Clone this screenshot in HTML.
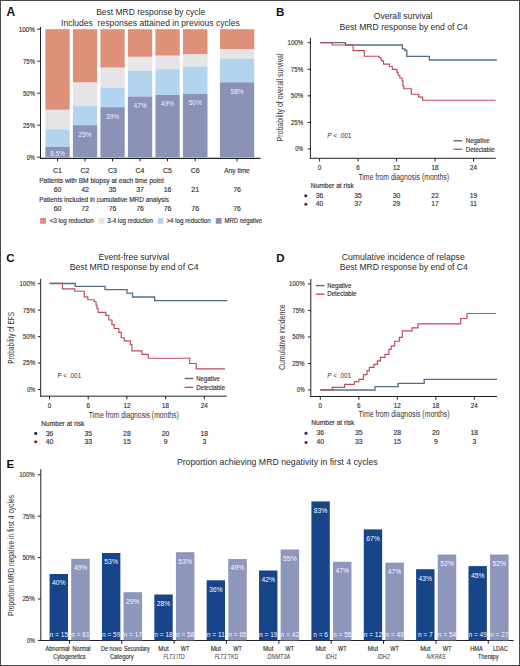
<!DOCTYPE html>
<html><head><meta charset="utf-8"><style>
html,body{margin:0;padding:0;background:#fff;}
body{width:520px;height:666px;overflow:hidden;}
svg{display:block;font-family:"Liberation Sans", sans-serif;}
</style></head><body>
<svg width="520" height="666" viewBox="0 0 520 666">
<rect x="0" y="0" width="520" height="666" fill="#fff"/>
<text x="6.6" y="15.8" font-size="12" font-weight="bold" fill="#111">A</text>
<text x="96.2" y="15.4" font-size="8.6" textLength="109" lengthAdjust="spacingAndGlyphs" fill="#2b2b2b">Best MRD response by cycle</text>
<text x="61" y="25.6" font-size="8.6" textLength="178.8" lengthAdjust="spacingAndGlyphs" fill="#2b2b2b" xml:space="preserve">Includes  responses attained in previous cycles</text>
<rect x="45.40" y="29.20" width="24.30" height="80.64" fill="#DF9079"/>
<rect x="45.40" y="109.84" width="24.30" height="19.46" fill="#E5E4E6"/>
<rect x="45.40" y="129.30" width="24.30" height="17.66" fill="#B3D4EE"/>
<rect x="45.40" y="146.96" width="24.30" height="10.24" fill="#8A93B6"/>
<text x="57.55" y="155.6" font-size="6.5" text-anchor="middle" fill="#eef0ff">8.5%</text>
<rect x="72.90" y="29.20" width="24.30" height="53.38" fill="#DF9079"/>
<rect x="72.90" y="82.58" width="24.30" height="23.17" fill="#E5E4E6"/>
<rect x="72.90" y="105.74" width="24.30" height="19.46" fill="#B3D4EE"/>
<rect x="72.90" y="125.20" width="24.30" height="32.00" fill="#8A93B6"/>
<text x="85.05000000000001" y="136.7" font-size="6.5" text-anchor="middle" fill="#eef0ff">25%</text>
<rect x="100.40" y="29.20" width="24.30" height="38.53" fill="#DF9079"/>
<rect x="100.40" y="67.73" width="24.30" height="19.97" fill="#E5E4E6"/>
<rect x="100.40" y="87.70" width="24.30" height="19.58" fill="#B3D4EE"/>
<rect x="100.40" y="107.28" width="24.30" height="49.92" fill="#8A93B6"/>
<text x="112.55000000000001" y="118.77999999999999" font-size="6.5" text-anchor="middle" fill="#eef0ff">39%</text>
<rect x="127.90" y="29.20" width="24.30" height="27.65" fill="#DF9079"/>
<rect x="127.90" y="56.85" width="24.30" height="13.95" fill="#E5E4E6"/>
<rect x="127.90" y="70.80" width="24.30" height="25.73" fill="#B3D4EE"/>
<rect x="127.90" y="96.53" width="24.30" height="60.67" fill="#8A93B6"/>
<text x="140.05" y="108.02799999999999" font-size="6.5" text-anchor="middle" fill="#eef0ff">47%</text>
<rect x="155.40" y="29.20" width="24.30" height="26.50" fill="#DF9079"/>
<rect x="155.40" y="55.70" width="24.30" height="13.50" fill="#E5E4E6"/>
<rect x="155.40" y="69.20" width="24.30" height="25.79" fill="#B3D4EE"/>
<rect x="155.40" y="94.99" width="24.30" height="62.21" fill="#8A93B6"/>
<text x="167.55" y="106.49199999999999" font-size="6.5" text-anchor="middle" fill="#eef0ff">49%</text>
<rect x="182.90" y="29.20" width="24.60" height="25.22" fill="#DF9079"/>
<rect x="182.90" y="54.42" width="24.60" height="11.90" fill="#E5E4E6"/>
<rect x="182.90" y="66.32" width="24.60" height="27.52" fill="#B3D4EE"/>
<rect x="182.90" y="93.84" width="24.60" height="63.36" fill="#8A93B6"/>
<text x="195.20000000000002" y="105.33999999999999" font-size="6.5" text-anchor="middle" fill="#eef0ff">50%</text>
<rect x="219.90" y="29.20" width="34.30" height="19.97" fill="#DF9079"/>
<rect x="219.90" y="49.17" width="34.30" height="9.34" fill="#E5E4E6"/>
<rect x="219.90" y="58.51" width="34.30" height="23.81" fill="#B3D4EE"/>
<rect x="219.90" y="82.32" width="34.30" height="74.88" fill="#8A93B6"/>
<text x="237.05" y="93.82" font-size="6.5" text-anchor="middle" fill="#eef0ff">58%</text>
<line x1="40.5" y1="27" x2="40.5" y2="158.8" stroke="#222" stroke-width="1"/>
<line x1="40" y1="158.3" x2="260.5" y2="158.3" stroke="#222" stroke-width="1.2"/>
<line x1="37.3" y1="157.2" x2="40.5" y2="157.2" stroke="#222" stroke-width="1"/>
<text x="34.9" y="159.6" font-size="6.9" text-anchor="end" textLength="8.2" lengthAdjust="spacingAndGlyphs" fill="#333" stroke="#333" stroke-width="0.15">0%</text>
<line x1="37.3" y1="125.19999999999999" x2="40.5" y2="125.19999999999999" stroke="#222" stroke-width="1"/>
<text x="34.9" y="127.6" font-size="6.9" text-anchor="end" textLength="11.8" lengthAdjust="spacingAndGlyphs" fill="#333" stroke="#333" stroke-width="0.15">25%</text>
<line x1="37.3" y1="93.19999999999999" x2="40.5" y2="93.19999999999999" stroke="#222" stroke-width="1"/>
<text x="34.9" y="95.6" font-size="6.9" text-anchor="end" textLength="11.8" lengthAdjust="spacingAndGlyphs" fill="#333" stroke="#333" stroke-width="0.15">50%</text>
<line x1="37.3" y1="61.19999999999999" x2="40.5" y2="61.19999999999999" stroke="#222" stroke-width="1"/>
<text x="34.9" y="63.59999999999999" font-size="6.9" text-anchor="end" textLength="11.8" lengthAdjust="spacingAndGlyphs" fill="#333" stroke="#333" stroke-width="0.15">75%</text>
<line x1="37.3" y1="29.19999999999999" x2="40.5" y2="29.19999999999999" stroke="#222" stroke-width="1"/>
<text x="34.9" y="31.599999999999987" font-size="6.9" text-anchor="end" textLength="16.2" lengthAdjust="spacingAndGlyphs" fill="#333" stroke="#333" stroke-width="0.15">100%</text>
<line x1="57.55" y1="158.3" x2="57.55" y2="161.3" stroke="#222" stroke-width="1"/>
<text x="57.55" y="172.9" font-size="7" text-anchor="middle" fill="#333" stroke="#333" stroke-width="0.15">C1</text>
<text x="57.55" y="191.5" font-size="7" text-anchor="middle" fill="#333" stroke="#333" stroke-width="0.15">60</text>
<text x="57.55" y="210.8" font-size="7" text-anchor="middle" fill="#333" stroke="#333" stroke-width="0.15">60</text>
<line x1="85.05000000000001" y1="158.3" x2="85.05000000000001" y2="161.3" stroke="#222" stroke-width="1"/>
<text x="85.05000000000001" y="172.9" font-size="7" text-anchor="middle" fill="#333" stroke="#333" stroke-width="0.15">C2</text>
<text x="85.05000000000001" y="191.5" font-size="7" text-anchor="middle" fill="#333" stroke="#333" stroke-width="0.15">42</text>
<text x="85.05000000000001" y="210.8" font-size="7" text-anchor="middle" fill="#333" stroke="#333" stroke-width="0.15">72</text>
<line x1="112.55000000000001" y1="158.3" x2="112.55000000000001" y2="161.3" stroke="#222" stroke-width="1"/>
<text x="112.55000000000001" y="172.9" font-size="7" text-anchor="middle" fill="#333" stroke="#333" stroke-width="0.15">C3</text>
<text x="112.55000000000001" y="191.5" font-size="7" text-anchor="middle" fill="#333" stroke="#333" stroke-width="0.15">35</text>
<text x="112.55000000000001" y="210.8" font-size="7" text-anchor="middle" fill="#333" stroke="#333" stroke-width="0.15">76</text>
<line x1="140.05" y1="158.3" x2="140.05" y2="161.3" stroke="#222" stroke-width="1"/>
<text x="140.05" y="172.9" font-size="7" text-anchor="middle" fill="#333" stroke="#333" stroke-width="0.15">C4</text>
<text x="140.05" y="191.5" font-size="7" text-anchor="middle" fill="#333" stroke="#333" stroke-width="0.15">37</text>
<text x="140.05" y="210.8" font-size="7" text-anchor="middle" fill="#333" stroke="#333" stroke-width="0.15">76</text>
<line x1="167.55" y1="158.3" x2="167.55" y2="161.3" stroke="#222" stroke-width="1"/>
<text x="167.55" y="172.9" font-size="7" text-anchor="middle" fill="#333" stroke="#333" stroke-width="0.15">C5</text>
<text x="167.55" y="191.5" font-size="7" text-anchor="middle" fill="#333" stroke="#333" stroke-width="0.15">16</text>
<text x="167.55" y="210.8" font-size="7" text-anchor="middle" fill="#333" stroke="#333" stroke-width="0.15">76</text>
<line x1="195.20000000000002" y1="158.3" x2="195.20000000000002" y2="161.3" stroke="#222" stroke-width="1"/>
<text x="195.20000000000002" y="172.9" font-size="7" text-anchor="middle" fill="#333" stroke="#333" stroke-width="0.15">C6</text>
<text x="195.20000000000002" y="191.5" font-size="7" text-anchor="middle" fill="#333" stroke="#333" stroke-width="0.15">21</text>
<text x="195.20000000000002" y="210.8" font-size="7" text-anchor="middle" fill="#333" stroke="#333" stroke-width="0.15">76</text>
<line x1="237.05" y1="158.3" x2="237.05" y2="161.3" stroke="#222" stroke-width="1"/>
<text x="237.05" y="172.9" font-size="7" text-anchor="middle" textLength="25.4" lengthAdjust="spacingAndGlyphs" fill="#333" stroke="#333" stroke-width="0.15">Any time</text>
<text x="237.05" y="191.5" font-size="7" text-anchor="middle" fill="#333" stroke="#333" stroke-width="0.15">76</text>
<text x="237.05" y="210.8" font-size="7" text-anchor="middle" fill="#333" stroke="#333" stroke-width="0.15">76</text>
<text x="39.2" y="182.9" font-size="6.8" textLength="124.6" lengthAdjust="spacingAndGlyphs" fill="#333" stroke="#333" stroke-width="0.15">Patients with BM biopsy at each time point</text>
<text x="39.2" y="202.1" font-size="6.8" textLength="129.7" lengthAdjust="spacingAndGlyphs" fill="#333" stroke="#333" stroke-width="0.15">Patients included in cumulative MRD analysis</text>
<rect x="40.20" y="218.00" width="5.80" height="5.80" fill="#DF9079"/>
<text x="49.8" y="223.3" font-size="6.3" textLength="43.9" lengthAdjust="spacingAndGlyphs" fill="#333" stroke="#333" stroke-width="0.15">&lt;3 log reduction</text>
<rect x="98.70" y="218.00" width="5.80" height="5.80" fill="#E5E4E6"/>
<text x="107.3" y="223.3" font-size="6.3" textLength="45.6" lengthAdjust="spacingAndGlyphs" fill="#333" stroke="#333" stroke-width="0.15">3-4 log reduction</text>
<rect x="157.70" y="218.00" width="5.80" height="5.80" fill="#B3D4EE"/>
<text x="166.5" y="223.3" font-size="6.3" textLength="44.2" lengthAdjust="spacingAndGlyphs" fill="#333" stroke="#333" stroke-width="0.15">&gt;4 log reduction</text>
<rect x="215.80" y="218.00" width="5.80" height="5.80" fill="#8A93B6"/>
<text x="224.6" y="223.3" font-size="6.3" textLength="37.4" lengthAdjust="spacingAndGlyphs" fill="#333" stroke="#333" stroke-width="0.15">MRD negative</text>
<text x="276.0" y="15.7" font-size="11.5" font-weight="bold" fill="#111">B</text>
<text x="373.8" y="19.0" font-size="8.8" textLength="58.6" lengthAdjust="spacingAndGlyphs" fill="#2b2b2b">Overall survival</text>
<text x="339.5" y="29.8" font-size="8.8" textLength="128.4" lengthAdjust="spacingAndGlyphs" fill="#2b2b2b">Best MRD response by end of C4</text>
<line x1="310.4" y1="37.7" x2="310.4" y2="158.8" stroke="#222" stroke-width="1"/>
<line x1="309.9" y1="158.3" x2="495.8" y2="158.3" stroke="#222" stroke-width="1"/>
<line x1="307.59999999999997" y1="42.7" x2="310.4" y2="42.7" stroke="#222" stroke-width="1"/>
<text x="303.2" y="45.1" font-size="7.0" text-anchor="end" textLength="15.6" lengthAdjust="spacingAndGlyphs" fill="#333" stroke="#333" stroke-width="0.15">100%</text>
<line x1="307.59999999999997" y1="69.27000000000001" x2="310.4" y2="69.27000000000001" stroke="#222" stroke-width="1"/>
<text x="303.2" y="71.67000000000002" font-size="7.0" text-anchor="end" textLength="12.4" lengthAdjust="spacingAndGlyphs" fill="#333" stroke="#333" stroke-width="0.15">75%</text>
<line x1="307.59999999999997" y1="95.84" x2="310.4" y2="95.84" stroke="#222" stroke-width="1"/>
<text x="303.2" y="98.24000000000001" font-size="7.0" text-anchor="end" textLength="12.4" lengthAdjust="spacingAndGlyphs" fill="#333" stroke="#333" stroke-width="0.15">50%</text>
<line x1="307.59999999999997" y1="122.41000000000001" x2="310.4" y2="122.41000000000001" stroke="#222" stroke-width="1"/>
<text x="303.2" y="124.81000000000002" font-size="7.0" text-anchor="end" textLength="12.4" lengthAdjust="spacingAndGlyphs" fill="#333" stroke="#333" stroke-width="0.15">25%</text>
<line x1="307.59999999999997" y1="148.98000000000002" x2="310.4" y2="148.98000000000002" stroke="#222" stroke-width="1"/>
<text x="303.2" y="151.38000000000002" font-size="7.0" text-anchor="end" textLength="7.9" lengthAdjust="spacingAndGlyphs" fill="#333" stroke="#333" stroke-width="0.15">0%</text>
<line x1="319.6" y1="158.3" x2="319.6" y2="161.5" stroke="#222" stroke-width="1"/>
<text x="319.6" y="169.60000000000002" font-size="6.3" text-anchor="middle" fill="#333" stroke="#333" stroke-width="0.15">0</text>
<line x1="358.1" y1="158.3" x2="358.1" y2="161.5" stroke="#222" stroke-width="1"/>
<text x="358.1" y="169.60000000000002" font-size="6.3" text-anchor="middle" fill="#333" stroke="#333" stroke-width="0.15">6</text>
<line x1="396.6" y1="158.3" x2="396.6" y2="161.5" stroke="#222" stroke-width="1"/>
<text x="396.6" y="169.60000000000002" font-size="6.3" text-anchor="middle" fill="#333" stroke="#333" stroke-width="0.15">12</text>
<line x1="435.1" y1="158.3" x2="435.1" y2="161.5" stroke="#222" stroke-width="1"/>
<text x="435.1" y="169.60000000000002" font-size="6.3" text-anchor="middle" fill="#333" stroke="#333" stroke-width="0.15">18</text>
<line x1="473.6" y1="158.3" x2="473.6" y2="161.5" stroke="#222" stroke-width="1"/>
<text x="473.6" y="169.60000000000002" font-size="6.3" text-anchor="middle" fill="#333" stroke="#333" stroke-width="0.15">24</text>
<text x="358.4" y="179.6" font-size="9.2" textLength="90.6" lengthAdjust="spacingAndGlyphs" fill="#333">Time from diagnosis (months)</text>
<text transform="translate(282.8,141.3) rotate(-90)" font-size="9" textLength="87.8" lengthAdjust="spacingAndGlyphs" fill="#333">Probability of overall survival</text>
<text x="327.2" y="137.8" font-size="6.8" textLength="24.2" lengthAdjust="spacingAndGlyphs" fill="#333"><tspan font-style="italic">P</tspan> &lt; .001</text>
<line x1="453.5" y1="140.8" x2="462.2" y2="140.8" stroke="#566B88" stroke-width="1.4"/>
<line x1="453.5" y1="149.3" x2="462.2" y2="149.3" stroke="#BF4A58" stroke-width="1.3"/>
<text x="465.8" y="143.3" font-size="6.7" textLength="23.8" lengthAdjust="spacingAndGlyphs" fill="#333" stroke="#333" stroke-width="0.15">Negative</text>
<text x="465.8" y="151.5" font-size="6.7" textLength="28.9" lengthAdjust="spacingAndGlyphs" fill="#333" stroke="#333" stroke-width="0.15">Detectable</text>
<text x="310.7" y="188.29999999999998" font-size="6.5" textLength="43.2" lengthAdjust="spacingAndGlyphs" fill="#333" stroke="#333" stroke-width="0.15">Number at risk</text>
<circle cx="305.8" cy="195.70000000000002" r="1.55" fill="#1B2A4E"/>
<circle cx="305.8" cy="204.20000000000002" r="1.55" fill="#7E1F2C"/>
<text x="319.6" y="197.8" font-size="6.8" text-anchor="middle" fill="#333" stroke="#333" stroke-width="0.15">36</text>
<text x="319.6" y="205.9" font-size="6.8" text-anchor="middle" fill="#333" stroke="#333" stroke-width="0.15">40</text>
<text x="358.1" y="197.8" font-size="6.8" text-anchor="middle" fill="#333" stroke="#333" stroke-width="0.15">35</text>
<text x="358.1" y="205.9" font-size="6.8" text-anchor="middle" fill="#333" stroke="#333" stroke-width="0.15">37</text>
<text x="396.6" y="197.8" font-size="6.8" text-anchor="middle" fill="#333" stroke="#333" stroke-width="0.15">30</text>
<text x="396.6" y="205.9" font-size="6.8" text-anchor="middle" fill="#333" stroke="#333" stroke-width="0.15">29</text>
<text x="435.1" y="197.8" font-size="6.8" text-anchor="middle" fill="#333" stroke="#333" stroke-width="0.15">22</text>
<text x="435.1" y="205.9" font-size="6.8" text-anchor="middle" fill="#333" stroke="#333" stroke-width="0.15">17</text>
<text x="473.6" y="197.8" font-size="6.8" text-anchor="middle" fill="#333" stroke="#333" stroke-width="0.15">19</text>
<text x="473.6" y="205.9" font-size="6.8" text-anchor="middle" fill="#333" stroke="#333" stroke-width="0.15">11</text>
<path d="M320.3 42.7 H345.4 V45.0 H402.3 V48.8 H405.0 V50.5 H406.8 V56.3 H429.4 V60.0 H496.9 V60.0" fill="none" stroke="#566B88" stroke-width="1.3" stroke-linejoin="miter"/>
<path d="M320.3 42.7 H332.3 V45.0 H353.1 V50.6 H364.3 V56.2 H379.0 V57.5 H380.5 V59.0 H381.8 V60.8 H383.6 V64.2 H389.4 V66.5 H392.3 V69.4 H396.9 V72.3 H398.2 V75.2 H399.8 V78.0 H402.1 V81.0 H402.9 V86.1 H403.8 V88.7 H411.3 V94.2 H418.8 V97.1 H422.6 V100.2 H495.6 V100.2" fill="none" stroke="#BF4A58" stroke-width="1.15" stroke-linejoin="miter"/>
<text x="6.3" y="262.1" font-size="11.5" font-weight="bold" fill="#111">C</text>
<text x="98.5" y="259.5" font-size="8.8" textLength="70.7" lengthAdjust="spacingAndGlyphs" fill="#2b2b2b">Event-free survival</text>
<text x="69.8" y="270.1" font-size="8.8" textLength="128.7" lengthAdjust="spacingAndGlyphs" fill="#2b2b2b">Best MRD response by end of C4</text>
<line x1="40.7" y1="278.8" x2="40.7" y2="396.7" stroke="#222" stroke-width="1"/>
<line x1="40.2" y1="396.2" x2="226.6" y2="396.2" stroke="#222" stroke-width="1"/>
<line x1="37.900000000000006" y1="283.7" x2="40.7" y2="283.7" stroke="#222" stroke-width="1"/>
<text x="35.2" y="286.09999999999997" font-size="7.0" text-anchor="end" textLength="15.6" lengthAdjust="spacingAndGlyphs" fill="#333" stroke="#333" stroke-width="0.15">100%</text>
<line x1="37.900000000000006" y1="310.15" x2="40.7" y2="310.15" stroke="#222" stroke-width="1"/>
<text x="35.2" y="312.54999999999995" font-size="7.0" text-anchor="end" textLength="12.4" lengthAdjust="spacingAndGlyphs" fill="#333" stroke="#333" stroke-width="0.15">75%</text>
<line x1="37.900000000000006" y1="336.59999999999997" x2="40.7" y2="336.59999999999997" stroke="#222" stroke-width="1"/>
<text x="35.2" y="338.99999999999994" font-size="7.0" text-anchor="end" textLength="12.4" lengthAdjust="spacingAndGlyphs" fill="#333" stroke="#333" stroke-width="0.15">50%</text>
<line x1="37.900000000000006" y1="363.04999999999995" x2="40.7" y2="363.04999999999995" stroke="#222" stroke-width="1"/>
<text x="35.2" y="365.44999999999993" font-size="7.0" text-anchor="end" textLength="12.4" lengthAdjust="spacingAndGlyphs" fill="#333" stroke="#333" stroke-width="0.15">25%</text>
<line x1="37.900000000000006" y1="389.5" x2="40.7" y2="389.5" stroke="#222" stroke-width="1"/>
<text x="35.2" y="391.9" font-size="7.0" text-anchor="end" textLength="7.9" lengthAdjust="spacingAndGlyphs" fill="#333" stroke="#333" stroke-width="0.15">0%</text>
<line x1="49.5" y1="396.2" x2="49.5" y2="399.4" stroke="#222" stroke-width="1"/>
<text x="49.5" y="407.5" font-size="6.3" text-anchor="middle" fill="#333" stroke="#333" stroke-width="0.15">0</text>
<line x1="88.2" y1="396.2" x2="88.2" y2="399.4" stroke="#222" stroke-width="1"/>
<text x="88.2" y="407.5" font-size="6.3" text-anchor="middle" fill="#333" stroke="#333" stroke-width="0.15">6</text>
<line x1="126.9" y1="396.2" x2="126.9" y2="399.4" stroke="#222" stroke-width="1"/>
<text x="126.9" y="407.5" font-size="6.3" text-anchor="middle" fill="#333" stroke="#333" stroke-width="0.15">12</text>
<line x1="165.60000000000002" y1="396.2" x2="165.60000000000002" y2="399.4" stroke="#222" stroke-width="1"/>
<text x="165.60000000000002" y="407.5" font-size="6.3" text-anchor="middle" fill="#333" stroke="#333" stroke-width="0.15">18</text>
<line x1="204.3" y1="396.2" x2="204.3" y2="399.4" stroke="#222" stroke-width="1"/>
<text x="204.3" y="407.5" font-size="6.3" text-anchor="middle" fill="#333" stroke="#333" stroke-width="0.15">24</text>
<text x="88.8" y="417.7" font-size="9.2" textLength="90" lengthAdjust="spacingAndGlyphs" fill="#333">Time from diagnosis (months)</text>
<text transform="translate(13.8,363.7) rotate(-90)" font-size="9" textLength="51.7" lengthAdjust="spacingAndGlyphs" fill="#333">Probability of EFS</text>
<text x="57.4" y="377.8" font-size="6.8" textLength="23.8" lengthAdjust="spacingAndGlyphs" fill="#333">P &lt; .001</text>
<line x1="184.6" y1="378.5" x2="193.29999999999998" y2="378.5" stroke="#566B88" stroke-width="1.4"/>
<line x1="184.6" y1="387.29999999999995" x2="193.29999999999998" y2="387.29999999999995" stroke="#BF4A58" stroke-width="1.3"/>
<text x="196.2" y="381.0" font-size="6.7" textLength="23.6" lengthAdjust="spacingAndGlyphs" fill="#333" stroke="#333" stroke-width="0.15">Negative</text>
<text x="196.2" y="389.5" font-size="6.7" textLength="28.8" lengthAdjust="spacingAndGlyphs" fill="#333" stroke="#333" stroke-width="0.15">Detectable</text>
<text x="41.2" y="426.0" font-size="6.5" textLength="43.2" lengthAdjust="spacingAndGlyphs" fill="#333" stroke="#333" stroke-width="0.15">Number at risk</text>
<circle cx="35.7" cy="433.4" r="1.55" fill="#1B2A4E"/>
<circle cx="35.7" cy="441.8" r="1.55" fill="#7E1F2C"/>
<text x="49.5" y="435.5" font-size="6.8" text-anchor="middle" fill="#333" stroke="#333" stroke-width="0.15">36</text>
<text x="49.5" y="443.5" font-size="6.8" text-anchor="middle" fill="#333" stroke="#333" stroke-width="0.15">40</text>
<text x="88.2" y="435.5" font-size="6.8" text-anchor="middle" fill="#333" stroke="#333" stroke-width="0.15">35</text>
<text x="88.2" y="443.5" font-size="6.8" text-anchor="middle" fill="#333" stroke="#333" stroke-width="0.15">33</text>
<text x="126.9" y="435.5" font-size="6.8" text-anchor="middle" fill="#333" stroke="#333" stroke-width="0.15">28</text>
<text x="126.9" y="443.5" font-size="6.8" text-anchor="middle" fill="#333" stroke="#333" stroke-width="0.15">15</text>
<text x="165.60000000000002" y="435.5" font-size="6.8" text-anchor="middle" fill="#333" stroke="#333" stroke-width="0.15">20</text>
<text x="165.60000000000002" y="443.5" font-size="6.8" text-anchor="middle" fill="#333" stroke="#333" stroke-width="0.15">9</text>
<text x="204.3" y="435.5" font-size="6.8" text-anchor="middle" fill="#333" stroke="#333" stroke-width="0.15">18</text>
<text x="204.3" y="443.5" font-size="6.8" text-anchor="middle" fill="#333" stroke="#333" stroke-width="0.15">3</text>
<path d="M49.6 283.5 H75.2 V286.3 H105.0 V289.6 H127.0 V293.2 H132.5 V297.0 H154.6 V300.7 H227.3 V300.7" fill="none" stroke="#566B88" stroke-width="1.3" stroke-linejoin="miter"/>
<path d="M49.6 283.4 H62.4 V288.9 H74.7 V291.2 H84.2 V296.9 H87.8 V299.7 H94.2 V301.5 H96.0 V305.0 H97.0 V308.5 H98.1 V312.3 H105.8 V315.4 H108.8 V320.0 H111.9 V324.6 H114.2 V328.5 H118.8 V332.3 H121.2 V337.7 H124.2 V340.8 H130.4 V344.6 H131.9 V350.8 H141.9 V354.3 H148.2 V358.2 H189.7 V363.5 H196.2 V368.8 H225.0 V368.8" fill="none" stroke="#BF4A58" stroke-width="1.15" stroke-linejoin="miter"/>
<text x="276.3" y="262.1" font-size="11.5" font-weight="bold" fill="#111">D</text>
<text x="341.7" y="259.5" font-size="8.8" textLength="123.1" lengthAdjust="spacingAndGlyphs" fill="#2b2b2b">Cumulative incidence of relapse</text>
<text x="339.8" y="270.1" font-size="8.8" textLength="128" lengthAdjust="spacingAndGlyphs" fill="#2b2b2b">Best MRD response by end of C4</text>
<line x1="310.8" y1="279" x2="310.8" y2="397.0" stroke="#222" stroke-width="1"/>
<line x1="310.3" y1="396.5" x2="497" y2="396.5" stroke="#222" stroke-width="1"/>
<line x1="308.0" y1="283.9" x2="310.8" y2="283.9" stroke="#222" stroke-width="1"/>
<text x="304.6" y="286.29999999999995" font-size="7.0" text-anchor="end" textLength="15.6" lengthAdjust="spacingAndGlyphs" fill="#333" stroke="#333" stroke-width="0.15">100%</text>
<line x1="308.0" y1="310.41999999999996" x2="310.8" y2="310.41999999999996" stroke="#222" stroke-width="1"/>
<text x="304.6" y="312.81999999999994" font-size="7.0" text-anchor="end" textLength="12.4" lengthAdjust="spacingAndGlyphs" fill="#333" stroke="#333" stroke-width="0.15">75%</text>
<line x1="308.0" y1="336.94" x2="310.8" y2="336.94" stroke="#222" stroke-width="1"/>
<text x="304.6" y="339.34" font-size="7.0" text-anchor="end" textLength="12.4" lengthAdjust="spacingAndGlyphs" fill="#333" stroke="#333" stroke-width="0.15">50%</text>
<line x1="308.0" y1="363.46" x2="310.8" y2="363.46" stroke="#222" stroke-width="1"/>
<text x="304.6" y="365.85999999999996" font-size="7.0" text-anchor="end" textLength="12.4" lengthAdjust="spacingAndGlyphs" fill="#333" stroke="#333" stroke-width="0.15">25%</text>
<line x1="308.0" y1="389.97999999999996" x2="310.8" y2="389.97999999999996" stroke="#222" stroke-width="1"/>
<text x="304.6" y="392.37999999999994" font-size="7.0" text-anchor="end" textLength="7.9" lengthAdjust="spacingAndGlyphs" fill="#333" stroke="#333" stroke-width="0.15">0%</text>
<line x1="320.3" y1="396.5" x2="320.3" y2="399.7" stroke="#222" stroke-width="1"/>
<text x="320.3" y="407.8" font-size="6.3" text-anchor="middle" fill="#333" stroke="#333" stroke-width="0.15">0</text>
<line x1="358.82" y1="396.5" x2="358.82" y2="399.7" stroke="#222" stroke-width="1"/>
<text x="358.82" y="407.8" font-size="6.3" text-anchor="middle" fill="#333" stroke="#333" stroke-width="0.15">6</text>
<line x1="397.34000000000003" y1="396.5" x2="397.34000000000003" y2="399.7" stroke="#222" stroke-width="1"/>
<text x="397.34000000000003" y="407.8" font-size="6.3" text-anchor="middle" fill="#333" stroke="#333" stroke-width="0.15">12</text>
<line x1="435.86" y1="396.5" x2="435.86" y2="399.7" stroke="#222" stroke-width="1"/>
<text x="435.86" y="407.8" font-size="6.3" text-anchor="middle" fill="#333" stroke="#333" stroke-width="0.15">18</text>
<line x1="474.38" y1="396.5" x2="474.38" y2="399.7" stroke="#222" stroke-width="1"/>
<text x="474.38" y="407.8" font-size="6.3" text-anchor="middle" fill="#333" stroke="#333" stroke-width="0.15">24</text>
<text x="358.5" y="417.3" font-size="9.2" textLength="91.1" lengthAdjust="spacingAndGlyphs" fill="#333">Time from diagnosis (months)</text>
<text transform="translate(285.2,370.1) rotate(-90)" font-size="9" textLength="65.8" lengthAdjust="spacingAndGlyphs" fill="#333">Cumulative incidence</text>
<text x="327.2" y="378" font-size="6.8" textLength="23.8" lengthAdjust="spacingAndGlyphs" fill="#333"><tspan font-style="italic">P</tspan> &lt; .001</text>
<line x1="315.8" y1="285.6" x2="324.5" y2="285.6" stroke="#566B88" stroke-width="1.4"/>
<line x1="315.8" y1="294.2" x2="324.5" y2="294.2" stroke="#BF4A58" stroke-width="1.3"/>
<text x="327.3" y="288.1" font-size="6.7" textLength="24" lengthAdjust="spacingAndGlyphs" fill="#333" stroke="#333" stroke-width="0.15">Negative</text>
<text x="327.3" y="296.40000000000003" font-size="6.7" textLength="29.2" lengthAdjust="spacingAndGlyphs" fill="#333" stroke="#333" stroke-width="0.15">Detectable</text>
<text x="311.2" y="425.3" font-size="6.5" textLength="43.2" lengthAdjust="spacingAndGlyphs" fill="#333" stroke="#333" stroke-width="0.15">Number at risk</text>
<circle cx="306.0" cy="433.29999999999995" r="1.55" fill="#1B2A4E"/>
<circle cx="306.0" cy="442.5" r="1.55" fill="#7E1F2C"/>
<text x="320.3" y="435.4" font-size="6.8" text-anchor="middle" fill="#333" stroke="#333" stroke-width="0.15">36</text>
<text x="320.3" y="444.2" font-size="6.8" text-anchor="middle" fill="#333" stroke="#333" stroke-width="0.15">40</text>
<text x="358.82" y="435.4" font-size="6.8" text-anchor="middle" fill="#333" stroke="#333" stroke-width="0.15">35</text>
<text x="358.82" y="444.2" font-size="6.8" text-anchor="middle" fill="#333" stroke="#333" stroke-width="0.15">33</text>
<text x="397.34000000000003" y="435.4" font-size="6.8" text-anchor="middle" fill="#333" stroke="#333" stroke-width="0.15">28</text>
<text x="397.34000000000003" y="444.2" font-size="6.8" text-anchor="middle" fill="#333" stroke="#333" stroke-width="0.15">15</text>
<text x="435.86" y="435.4" font-size="6.8" text-anchor="middle" fill="#333" stroke="#333" stroke-width="0.15">20</text>
<text x="435.86" y="444.2" font-size="6.8" text-anchor="middle" fill="#333" stroke="#333" stroke-width="0.15">9</text>
<text x="474.38" y="435.4" font-size="6.8" text-anchor="middle" fill="#333" stroke="#333" stroke-width="0.15">18</text>
<text x="474.38" y="444.2" font-size="6.8" text-anchor="middle" fill="#333" stroke="#333" stroke-width="0.15">3</text>
<path d="M320.3 390.0 H375.0 V386.6 H398.1 V383.3 H424.2 V379.3 H497.0 V379.3" fill="none" stroke="#566B88" stroke-width="1.3" stroke-linejoin="miter"/>
<path d="M320.3 390.0 H332.3 V387.3 H344.6 V384.4 H354.3 V381.6 H358.9 V379.3 H363.5 V374.6 H367.0 V370.8 H369.3 V367.3 H373.9 V364.3 H377.4 V360.8 H380.3 V357.4 H385.0 V354.4 H388.9 V349.3 H391.2 V345.8 H394.7 V341.2 H399.3 V337.3 H402.3 V330.8 H412.0 V327.8 H418.0 V323.8 H460.7 V318.5 H467.0 V313.5 H495.8 V313.5" fill="none" stroke="#BF4A58" stroke-width="1.15" stroke-linejoin="miter"/>
<text x="6.5" y="468.3" font-size="11.5" font-weight="bold" fill="#111">E</text>
<text x="176.9" y="465" font-size="8.6" textLength="200.8" lengthAdjust="spacingAndGlyphs" fill="#2b2b2b">Proportion achieving MRD negativity in first 4 cycles</text>
<line x1="40.8" y1="469.2" x2="40.8" y2="641" stroke="#222" stroke-width="1"/>
<line x1="40.3" y1="640.5" x2="513.6" y2="640.5" stroke="#222" stroke-width="1"/>
<line x1="37.8" y1="640.4" x2="40.8" y2="640.4" stroke="#222" stroke-width="1"/>
<text x="34.8" y="642.8" font-size="7.0" text-anchor="end" textLength="7.9" lengthAdjust="spacingAndGlyphs" fill="#333" stroke="#333" stroke-width="0.15">0%</text>
<line x1="37.8" y1="599.0" x2="40.8" y2="599.0" stroke="#222" stroke-width="1"/>
<text x="34.8" y="601.4" font-size="7.0" text-anchor="end" textLength="12.4" lengthAdjust="spacingAndGlyphs" fill="#333" stroke="#333" stroke-width="0.15">25%</text>
<line x1="37.8" y1="557.6" x2="40.8" y2="557.6" stroke="#222" stroke-width="1"/>
<text x="34.8" y="560.0" font-size="7.0" text-anchor="end" textLength="12.4" lengthAdjust="spacingAndGlyphs" fill="#333" stroke="#333" stroke-width="0.15">50%</text>
<line x1="37.8" y1="516.2" x2="40.8" y2="516.2" stroke="#222" stroke-width="1"/>
<text x="34.8" y="518.6" font-size="7.0" text-anchor="end" textLength="12.4" lengthAdjust="spacingAndGlyphs" fill="#333" stroke="#333" stroke-width="0.15">75%</text>
<line x1="37.8" y1="474.79999999999995" x2="40.8" y2="474.79999999999995" stroke="#222" stroke-width="1"/>
<text x="34.8" y="477.19999999999993" font-size="7.0" text-anchor="end" textLength="15.6" lengthAdjust="spacingAndGlyphs" fill="#333" stroke="#333" stroke-width="0.15">100%</text>
<text transform="translate(14.2,616) rotate(-90)" font-size="9" textLength="121" lengthAdjust="spacingAndGlyphs" fill="#333">Proportion MRD negative in first 4 cycles</text>
<defs>
<clipPath id="cd0"><rect x="49.60" y="400" width="18.4" height="240.4"/></clipPath>
<clipPath id="cl0"><rect x="71.20" y="400" width="18.5" height="240.4"/></clipPath>
<clipPath id="cd1"><rect x="101.96" y="400" width="18.4" height="240.4"/></clipPath>
<clipPath id="cl1"><rect x="123.56" y="400" width="18.5" height="240.4"/></clipPath>
<clipPath id="cd2"><rect x="154.32" y="400" width="18.4" height="240.4"/></clipPath>
<clipPath id="cl2"><rect x="175.92" y="400" width="18.5" height="240.4"/></clipPath>
<clipPath id="cd3"><rect x="206.68" y="400" width="18.4" height="240.4"/></clipPath>
<clipPath id="cl3"><rect x="228.28" y="400" width="18.5" height="240.4"/></clipPath>
<clipPath id="cd4"><rect x="259.04" y="400" width="18.4" height="240.4"/></clipPath>
<clipPath id="cl4"><rect x="280.64" y="400" width="18.5" height="240.4"/></clipPath>
<clipPath id="cd5"><rect x="311.40" y="400" width="18.4" height="240.4"/></clipPath>
<clipPath id="cl5"><rect x="333.00" y="400" width="18.5" height="240.4"/></clipPath>
<clipPath id="cd6"><rect x="363.76" y="400" width="18.4" height="240.4"/></clipPath>
<clipPath id="cl6"><rect x="385.36" y="400" width="18.5" height="240.4"/></clipPath>
<clipPath id="cd7"><rect x="416.12" y="400" width="18.4" height="240.4"/></clipPath>
<clipPath id="cl7"><rect x="437.72" y="400" width="18.5" height="240.4"/></clipPath>
<clipPath id="cd8"><rect x="468.48" y="400" width="18.4" height="240.4"/></clipPath>
<clipPath id="cl8"><rect x="490.08" y="400" width="18.5" height="240.4"/></clipPath>
</defs>
<rect x="49.60" y="574.00" width="18.40" height="66.40" fill="#18458A"/>
<rect x="71.20" y="558.80" width="18.50" height="81.60" fill="#8E96BC"/>
<text x="58.8" y="585.4" font-size="6.8" text-anchor="middle" fill="#f4f6ff">40%</text>
<text x="80.45" y="570.1999999999999" font-size="6.8" text-anchor="middle" fill="#f4f6ff">49%</text>
<g clip-path="url(#cd0)">
<text x="58.8" y="636.8" font-size="6.6" text-anchor="middle" fill="#f4f6ff">n = 15</text>
</g>
<g clip-path="url(#cl0)">
<text x="80.45" y="636.8" font-size="6.6" text-anchor="middle" fill="#f4f6ff">n = 61</text>
</g>
<line x1="69.4" y1="640.5" x2="69.4" y2="643.8" stroke="#222" stroke-width="1"/>
<text x="57.5" y="651.4" font-size="6.3" text-anchor="middle" textLength="24.2" lengthAdjust="spacingAndGlyphs" fill="#333" stroke="#333" stroke-width="0.15">Abnormal</text>
<text x="81.55" y="651.4" font-size="6.3" text-anchor="middle" textLength="18.0" lengthAdjust="spacingAndGlyphs" fill="#333" stroke="#333" stroke-width="0.15">Normal</text>
<text x="69.4" y="658.6" font-size="6.3" text-anchor="middle" textLength="32.4" lengthAdjust="spacingAndGlyphs" fill="#333" stroke="#333" stroke-width="0.15">Cytogenetics</text>
<rect x="101.96" y="553.00" width="18.40" height="87.40" fill="#18458A"/>
<rect x="123.56" y="592.20" width="18.50" height="48.20" fill="#8E96BC"/>
<text x="111.16000000000001" y="564.4" font-size="6.8" text-anchor="middle" fill="#f4f6ff">53%</text>
<text x="132.81" y="603.6" font-size="6.8" text-anchor="middle" fill="#f4f6ff">29%</text>
<g clip-path="url(#cd1)">
<text x="111.16000000000001" y="636.8" font-size="6.6" text-anchor="middle" fill="#f4f6ff">n = 59</text>
</g>
<g clip-path="url(#cl1)">
<text x="132.81" y="636.8" font-size="6.6" text-anchor="middle" fill="#f4f6ff">n = 17</text>
</g>
<line x1="121.76" y1="640.5" x2="121.76" y2="643.8" stroke="#222" stroke-width="1"/>
<text x="111.26" y="651.4" font-size="6.3" text-anchor="middle" textLength="20.6" lengthAdjust="spacingAndGlyphs" fill="#333" stroke="#333" stroke-width="0.15">De novo</text>
<text x="136.91" y="651.4" font-size="6.3" text-anchor="middle" textLength="25.8" lengthAdjust="spacingAndGlyphs" fill="#333" stroke="#333" stroke-width="0.15">Secondary</text>
<text x="121.76" y="658.6" font-size="6.3" text-anchor="middle" textLength="23.7" lengthAdjust="spacingAndGlyphs" fill="#333" stroke="#333" stroke-width="0.15">Category</text>
<rect x="154.32" y="594.50" width="18.40" height="45.90" fill="#18458A"/>
<rect x="175.92" y="552.20" width="18.50" height="88.20" fill="#8E96BC"/>
<text x="163.51999999999998" y="605.9" font-size="6.8" text-anchor="middle" fill="#f4f6ff">28%</text>
<text x="185.17000000000002" y="563.6" font-size="6.8" text-anchor="middle" fill="#f4f6ff">53%</text>
<g clip-path="url(#cd2)">
<text x="163.51999999999998" y="636.8" font-size="6.6" text-anchor="middle" fill="#f4f6ff">n = 18</text>
</g>
<g clip-path="url(#cl2)">
<text x="185.17000000000002" y="636.8" font-size="6.6" text-anchor="middle" fill="#f4f6ff">n = 58</text>
</g>
<line x1="174.12" y1="640.5" x2="174.12" y2="643.8" stroke="#222" stroke-width="1"/>
<text x="163.51999999999998" y="651.4" font-size="6.3" text-anchor="middle" textLength="10.3" lengthAdjust="spacingAndGlyphs" fill="#333" stroke="#333" stroke-width="0.15">Mut</text>
<text x="185.17000000000002" y="651.4" font-size="6.3" text-anchor="middle" textLength="8.6" lengthAdjust="spacingAndGlyphs" fill="#333" stroke="#333" stroke-width="0.15">WT</text>
<text x="174.12" y="658.6" font-size="6.3" text-anchor="middle" textLength="21.4" lengthAdjust="spacingAndGlyphs" fill="#333"><tspan font-style="italic">FLT3</tspan> ITD</text>
<rect x="206.68" y="580.30" width="18.40" height="60.10" fill="#18458A"/>
<rect x="228.28" y="559.00" width="18.50" height="81.40" fill="#8E96BC"/>
<text x="215.87999999999997" y="591.6999999999999" font-size="6.8" text-anchor="middle" fill="#f4f6ff">36%</text>
<text x="237.52999999999997" y="570.4" font-size="6.8" text-anchor="middle" fill="#f4f6ff">49%</text>
<g clip-path="url(#cd3)">
<text x="215.87999999999997" y="636.8" font-size="6.6" text-anchor="middle" fill="#f4f6ff">n = 11</text>
</g>
<g clip-path="url(#cl3)">
<text x="237.52999999999997" y="636.8" font-size="6.6" text-anchor="middle" fill="#f4f6ff">n = 65</text>
</g>
<line x1="226.48" y1="640.5" x2="226.48" y2="643.8" stroke="#222" stroke-width="1"/>
<text x="215.87999999999997" y="651.4" font-size="6.3" text-anchor="middle" textLength="10.3" lengthAdjust="spacingAndGlyphs" fill="#333" stroke="#333" stroke-width="0.15">Mut</text>
<text x="237.52999999999997" y="651.4" font-size="6.3" text-anchor="middle" textLength="8.6" lengthAdjust="spacingAndGlyphs" fill="#333" stroke="#333" stroke-width="0.15">WT</text>
<text x="226.48" y="658.6" font-size="6.3" text-anchor="middle" textLength="23.7" lengthAdjust="spacingAndGlyphs" fill="#333"><tspan font-style="italic">FLT3</tspan> TKD</text>
<rect x="259.04" y="570.50" width="18.40" height="69.90" fill="#18458A"/>
<rect x="280.64" y="549.50" width="18.50" height="90.90" fill="#8E96BC"/>
<text x="268.24" y="581.9" font-size="6.8" text-anchor="middle" fill="#f4f6ff">42%</text>
<text x="289.89" y="560.9" font-size="6.8" text-anchor="middle" fill="#f4f6ff">55%</text>
<g clip-path="url(#cd4)">
<text x="268.24" y="636.8" font-size="6.6" text-anchor="middle" fill="#f4f6ff">n = 19</text>
</g>
<g clip-path="url(#cl4)">
<text x="289.89" y="636.8" font-size="6.6" text-anchor="middle" fill="#f4f6ff">n = 42</text>
</g>
<line x1="278.84000000000003" y1="640.5" x2="278.84000000000003" y2="643.8" stroke="#222" stroke-width="1"/>
<text x="268.24" y="651.4" font-size="6.3" text-anchor="middle" textLength="10.3" lengthAdjust="spacingAndGlyphs" fill="#333" stroke="#333" stroke-width="0.15">Mut</text>
<text x="289.89" y="651.4" font-size="6.3" text-anchor="middle" textLength="8.6" lengthAdjust="spacingAndGlyphs" fill="#333" stroke="#333" stroke-width="0.15">WT</text>
<text x="278.84" y="658.6" font-size="6.3" text-anchor="middle" font-style="italic" textLength="22.6" lengthAdjust="spacingAndGlyphs" fill="#333">DNMT3A</text>
<rect x="311.40" y="501.40" width="18.40" height="139.00" fill="#18458A"/>
<rect x="333.00" y="561.80" width="18.50" height="78.60" fill="#8E96BC"/>
<text x="320.6" y="512.8" font-size="6.8" text-anchor="middle" fill="#f4f6ff">83%</text>
<text x="342.25" y="573.1999999999999" font-size="6.8" text-anchor="middle" fill="#f4f6ff">47%</text>
<g clip-path="url(#cd5)">
<text x="320.6" y="636.8" font-size="6.6" text-anchor="middle" fill="#f4f6ff">n = 6</text>
</g>
<g clip-path="url(#cl5)">
<text x="342.25" y="636.8" font-size="6.6" text-anchor="middle" fill="#f4f6ff">n = 55</text>
</g>
<line x1="331.20000000000005" y1="640.5" x2="331.20000000000005" y2="643.8" stroke="#222" stroke-width="1"/>
<text x="320.6" y="651.4" font-size="6.3" text-anchor="middle" textLength="10.3" lengthAdjust="spacingAndGlyphs" fill="#333" stroke="#333" stroke-width="0.15">Mut</text>
<text x="342.25" y="651.4" font-size="6.3" text-anchor="middle" textLength="8.6" lengthAdjust="spacingAndGlyphs" fill="#333" stroke="#333" stroke-width="0.15">WT</text>
<text x="331.20" y="658.6" font-size="6.3" text-anchor="middle" font-style="italic" textLength="11.6" lengthAdjust="spacingAndGlyphs" fill="#333">IDH1</text>
<rect x="363.76" y="529.40" width="18.40" height="111.00" fill="#18458A"/>
<rect x="385.36" y="562.60" width="18.50" height="77.80" fill="#8E96BC"/>
<text x="372.96" y="540.8" font-size="6.8" text-anchor="middle" fill="#f4f6ff">67%</text>
<text x="394.60999999999996" y="574.0" font-size="6.8" text-anchor="middle" fill="#f4f6ff">47%</text>
<g clip-path="url(#cd6)">
<text x="372.96" y="636.8" font-size="6.6" text-anchor="middle" fill="#f4f6ff">n = 12</text>
</g>
<g clip-path="url(#cl6)">
<text x="394.60999999999996" y="636.8" font-size="6.6" text-anchor="middle" fill="#f4f6ff">n = 49</text>
</g>
<line x1="383.55999999999995" y1="640.5" x2="383.55999999999995" y2="643.8" stroke="#222" stroke-width="1"/>
<text x="372.96" y="651.4" font-size="6.3" text-anchor="middle" textLength="10.3" lengthAdjust="spacingAndGlyphs" fill="#333" stroke="#333" stroke-width="0.15">Mut</text>
<text x="394.60999999999996" y="651.4" font-size="6.3" text-anchor="middle" textLength="8.6" lengthAdjust="spacingAndGlyphs" fill="#333" stroke="#333" stroke-width="0.15">WT</text>
<text x="383.56" y="658.6" font-size="6.3" text-anchor="middle" font-style="italic" textLength="12.2" lengthAdjust="spacingAndGlyphs" fill="#333">IDH2</text>
<rect x="416.12" y="569.20" width="18.40" height="71.20" fill="#18458A"/>
<rect x="437.72" y="554.50" width="18.50" height="85.90" fill="#8E96BC"/>
<text x="425.32" y="580.6" font-size="6.8" text-anchor="middle" fill="#f4f6ff">43%</text>
<text x="446.96999999999997" y="565.9" font-size="6.8" text-anchor="middle" fill="#f4f6ff">52%</text>
<g clip-path="url(#cd7)">
<text x="425.32" y="636.8" font-size="6.6" text-anchor="middle" fill="#f4f6ff">n = 7</text>
</g>
<g clip-path="url(#cl7)">
<text x="446.96999999999997" y="636.8" font-size="6.6" text-anchor="middle" fill="#f4f6ff">n = 54</text>
</g>
<line x1="435.91999999999996" y1="640.5" x2="435.91999999999996" y2="643.8" stroke="#222" stroke-width="1"/>
<text x="425.32" y="651.4" font-size="6.3" text-anchor="middle" textLength="10.3" lengthAdjust="spacingAndGlyphs" fill="#333" stroke="#333" stroke-width="0.15">Mut</text>
<text x="446.96999999999997" y="651.4" font-size="6.3" text-anchor="middle" textLength="8.6" lengthAdjust="spacingAndGlyphs" fill="#333" stroke="#333" stroke-width="0.15">WT</text>
<text x="435.92" y="658.6" font-size="6.3" text-anchor="middle" font-style="italic" textLength="18.8" lengthAdjust="spacingAndGlyphs" fill="#333">N/KRAS</text>
<rect x="468.48" y="566.10" width="18.40" height="74.30" fill="#18458A"/>
<rect x="490.08" y="554.50" width="18.50" height="85.90" fill="#8E96BC"/>
<text x="477.68" y="577.5" font-size="6.8" text-anchor="middle" fill="#f4f6ff">45%</text>
<text x="499.33" y="565.9" font-size="6.8" text-anchor="middle" fill="#f4f6ff">52%</text>
<g clip-path="url(#cd8)">
<text x="477.68" y="636.8" font-size="6.6" text-anchor="middle" fill="#f4f6ff">n = 49</text>
</g>
<g clip-path="url(#cl8)">
<text x="499.33" y="636.8" font-size="6.6" text-anchor="middle" fill="#f4f6ff">n = 27</text>
</g>
<line x1="488.28" y1="640.5" x2="488.28" y2="643.8" stroke="#222" stroke-width="1"/>
<text x="476.48" y="651.4" font-size="6.3" text-anchor="middle" textLength="12.6" lengthAdjust="spacingAndGlyphs" fill="#333" stroke="#333" stroke-width="0.15">HMA</text>
<text x="500.33" y="651.4" font-size="6.3" text-anchor="middle" textLength="14.9" lengthAdjust="spacingAndGlyphs" fill="#333" stroke="#333" stroke-width="0.15">LDAC</text>
<text x="488.28" y="658.6" font-size="6.3" text-anchor="middle" textLength="20.4" lengthAdjust="spacingAndGlyphs" fill="#333" stroke="#333" stroke-width="0.15">Therapy</text>
<rect x="0.5" y="0.5" width="519" height="665" fill="none" stroke="#4a4a4a" stroke-width="1"/>
</svg>
</body></html>
